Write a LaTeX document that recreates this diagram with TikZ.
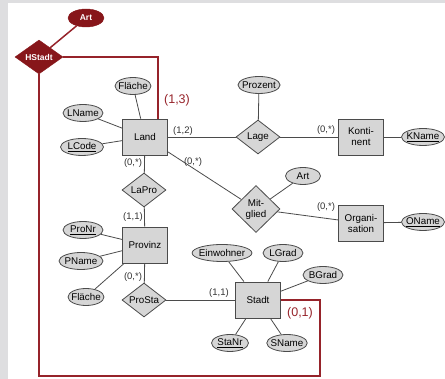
\documentclass[tikz,border=0pt]{standalone}
\usepackage{fontspec}
\setmainfont{Liberation Sans}
\usetikzlibrary{shapes.geometric}

\definecolor{erdred}{RGB}{150,35,42}
\definecolor{darkred}{RGB}{135,22,26}
\definecolor{erdfill}{RGB}{214,214,214}
\definecolor{erdline}{RGB}{75,75,75}
\definecolor{panel}{RGB}{222,222,224}

\tikzstyle{entity} = [rectangle, minimum width=45, minimum height=36, align=center, draw=erdline, fill=erdfill, line width=0.8pt]
\tikzstyle{relation} = [diamond, aspect=1.33, inner sep=0pt, minimum width=44, minimum height=34, align=center, draw=erdline, fill=erdfill, line width=0.8pt]
\tikzstyle{attribute} = [ellipse, inner xsep=-2pt, inner ysep=0pt, minimum width=35, minimum height=17, draw=erdline, fill=erdfill, line width=0.8pt]
\tikzstyle{hrelation} = [diamond, aspect=1.4, inner sep=0pt, minimum width=48, minimum height=34, draw=darkred, fill=darkred, text=white, font=\fontsize{8.5}{9}\selectfont\bfseries]
\tikzstyle{hattribute} = [ellipse, inner sep=0pt, minimum width=36, minimum height=18, draw=darkred, fill=darkred, text=white, font=\fontsize{8.5}{9}\selectfont\bfseries]
\tikzstyle{card} = [inner sep=0pt, text=black!80, font=\fontsize{9.5}{10}\selectfont]
\tikzstyle{hcard} = [inner sep=0pt, text=erdred, font=\fontsize{12.5}{13}\selectfont]
\tikzstyle{line} = [draw=erdline, line width=0.8pt]
\tikzstyle{hline} = [draw=erdred, line width=1.5pt]

\begin{document}
\begin{tikzpicture}[x=1pt, y=-1pt, font=\fontsize{9.8}{11}\selectfont]

        \fill [panel] (0,0) rectangle (8,379);
        \fill [panel] (0,0) rectangle (445,3);
        \useasboundingbox (0,0) rectangle (445,379);

        % entities and relations
        \node (Land) [entity] at (145,137) {Land};
        \node (Lage) [relation] at (258,137) {Lage};
        \node (Kontinent) [entity] at (361,137) {Konti-\\nent};
        \node (Mitglied) [relation, aspect=1, minimum width=48, minimum height=47] at (256,209) {Mit-\\glied};
        \node (Organisation) [entity] at (361,223) {Organi-\\sation};
        \node (LaPro) [relation] at (144,190) {LaPro};
        \node (Provinz) [entity] at (145,245) {Provinz};
        \node (ProSta) [relation] at (144,300) {ProSta};
        \node (Stadt) [entity] at (258,300) {Stadt};
        \node (HStadt) [hrelation] at (39,57) {HStadt};

        % attributes
        \node (ArtH) [hattribute] at (86,18) {Art};
        \node (FlaecheL) [attribute] at (133,86) {Fläche};
        \node (LName) [attribute, minimum width=40] at (83,113) {LName};
        \node (LCode) [attribute, minimum width=43] at (82,147) {\underline{LCode}};
        \node (Prozent) [attribute, minimum width=41] at (259,85) {Prozent};
        \node (KName) [attribute, minimum width=43] at (423,137) {\underline{KName}};
        \node (ArtM) [attribute] at (303,176) {Art};
        \node (OName) [attribute, minimum width=43] at (423,222) {\underline{OName}};
        \node (ProNr) [attribute, minimum width=40] at (83,230) {\underline{ProNr}};
        \node (PName) [attribute, minimum width=44] at (81,261) {PName};
        \node (FlaecheP) [attribute] at (86,297) {Fläche};
        \node (Einwohner) [attribute] at (222,253) {Einwohner};
        \node (LGrad) [attribute, minimum width=40] at (283,253) {LGrad};
        \node (BGrad) [attribute, minimum width=40] at (323,275) {BGrad};
        \node (StaNr) [attribute, minimum width=37] at (230,343) {\underline{StaNr}};
        \node (SName) [attribute, minimum width=39] at (287,343) {SName};

        \draw [line] (FlaecheL) -- (Land);
        \draw [line] (LName) -- (Land);
        \draw [line] (LCode) -- (Land);
        \draw [line] (Land) -- (Lage);
        \draw [line] (Prozent) -- (Lage);
        \draw [line] (Lage) -- (Kontinent);
        \draw [line] (Kontinent) -- (KName);
        \draw [line] (Land) -- (Mitglied);
        \draw [line] (Mitglied) -- (ArtM);
        \draw [line] (Mitglied) -- (Organisation);
        \draw [line] (Organisation) -- (OName);
        \draw [line] (Land) -- (LaPro);
        \draw [line] (LaPro) -- (Provinz);
        \draw [line] (ProNr) -- (Provinz);
        \draw [line] (PName) -- (Provinz);
        \draw [line] (FlaecheP) -- (Provinz);
        \draw [line] (Provinz) -- (ProSta);
        \draw [line] (ProSta) -- (Stadt);
        \draw [line] (Einwohner) -- (Stadt);
        \draw [line] (LGrad) -- (Stadt);
        \draw [line] (BGrad) -- (Stadt);
        \draw [line] (StaNr) -- (Stadt);
        \draw [line] (SName) -- (Stadt);

        % HStadt
        \coordinate (Ecke) at (320,376);
        \draw [hline] (ArtH) -- (HStadt);
        \draw [hline] (HStadt.east) -| ([xshift=13pt]Land.north);
        \draw [hline] (Stadt.east) -| (Ecke) -| (HStadt.south);

        % cardinalities
        \node (cLandLage) [card] at (183,131) {(1,2)};
        \node (cKontinent) [card] at (326,130) {(0,*)};
        \node (cLandLaPro) [card] at (133,163) {(0,*)};
        \node (cLandMitglied) [card] at (193,162) {(0,*)};
        \node (cOrganisation) [card] at (326,207) {(0,*)};
        \node (cProvinzLaPro) [card] at (133,217) {(1,1)};
        \node (cProvinzProSta) [card] at (133,277) {(0,*)};
        \node (cStadt) [card] at (219,293) {(1,1)};
        \node (cLandHStadt) [hcard] at (177,100) {(1,3)};
        \node (cStadtHStadt) [hcard] at (300,313) {(0,1)};

\end{tikzpicture}
\end{document}
